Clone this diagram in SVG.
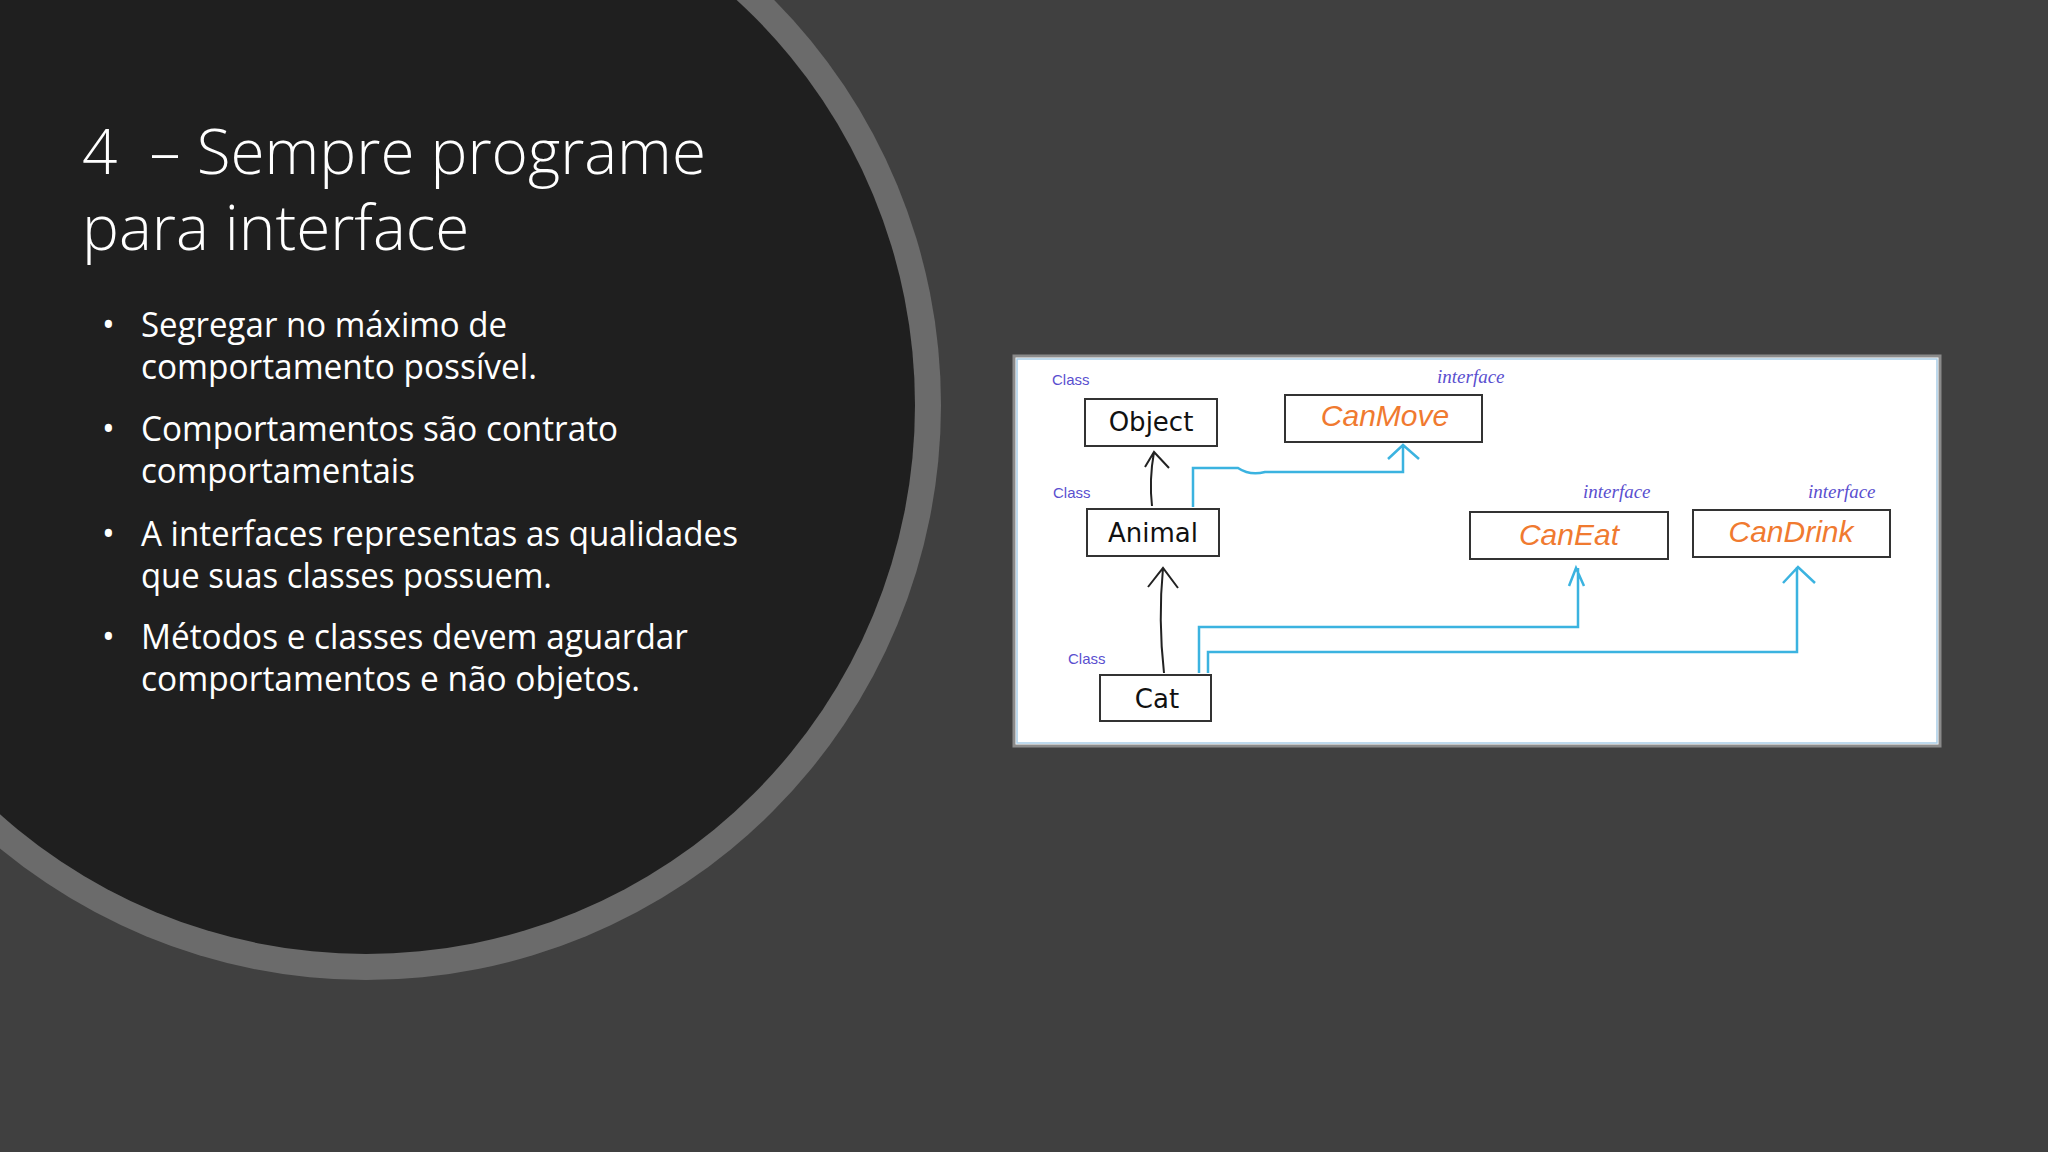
<svg xmlns="http://www.w3.org/2000/svg" width="2048" height="1152" viewBox="0 0 2048 1152">
<style>
.t{font-family:"Open Sans","Liberation Sans",sans-serif;fill:#fff}
.title{font-size:62px;font-weight:300}
.b{font-size:34px}
.box{fill:#fff;stroke:#333;stroke-width:2}
.cls{font-family:"Liberation Sans",sans-serif;font-size:15px;fill:#5a4fcf}
.itf{font-family:"Liberation Serif",serif;font-style:italic;font-size:19px;fill:#5a4fcf}
.nm{font-family:"DejaVu Sans",sans-serif;font-size:26px;fill:#111;text-anchor:middle}
.on{font-family:"Liberation Sans",sans-serif;font-style:italic;font-size:30px;fill:#f07a30;text-anchor:middle}
.k{fill:none;stroke:#222;stroke-width:2}
.c{fill:none;stroke:#3bb3e0;stroke-width:2.5}
</style>
<rect width="2048" height="1152" fill="#404040"/>
<circle cx="366" cy="405" r="575" fill="#6b6b6b"/>
<circle cx="366" cy="405" r="549" fill="#1f1f1f"/>
<g id="title">
<text class="t title" x="82" y="174">4&#160; – Sempre programe</text>
<text class="t title" x="82" y="250">para interface</text>
</g>
<g id="bullets">
<text class="t b" x="102" y="337">•</text>
<text class="t b" x="141" y="337" textLength="366" lengthAdjust="spacingAndGlyphs">Segregar no máximo de</text>
<text class="t b" x="141" y="379" textLength="396" lengthAdjust="spacingAndGlyphs">comportamento possível.</text>
<text class="t b" x="102" y="441">•</text>
<text class="t b" x="141" y="441" textLength="477" lengthAdjust="spacingAndGlyphs">Comportamentos são contrato</text>
<text class="t b" x="141" y="483" textLength="274" lengthAdjust="spacingAndGlyphs">comportamentais</text>
<text class="t b" x="102" y="546">•</text>
<text class="t b" x="141" y="546" textLength="597" lengthAdjust="spacingAndGlyphs">A interfaces representas as qualidades</text>
<text class="t b" x="141" y="588" textLength="411" lengthAdjust="spacingAndGlyphs">que suas classes possuem.</text>
<text class="t b" x="102" y="649">•</text>
<text class="t b" x="141" y="649" textLength="547" lengthAdjust="spacingAndGlyphs">Métodos e classes devem aguardar</text>
<text class="t b" x="141" y="691" textLength="499" lengthAdjust="spacingAndGlyphs">comportamentos e não objetos.</text>
</g>
<rect x="1014" y="356" width="926" height="390" fill="#fff" stroke="#8a8a8a" stroke-width="3"/>
<rect x="1017" y="359" width="920" height="384" fill="none" stroke="#a9cde6" stroke-width="1.5"/>
<g id="labels">
<text class="cls" x="1052" y="385">Class</text>
<text class="itf" x="1437" y="383">interface</text>
<text class="cls" x="1053" y="498">Class</text>
<text class="itf" x="1583" y="498">interface</text>
<text class="itf" x="1808" y="498">interface</text>
<text class="cls" x="1068" y="664">Class</text>
</g>
<g id="connectors">
<path class="k" d="M1152,506 Q1149,480 1154,452 M1145,467 L1154,452 L1169,468"/>
<path class="k" d="M1164,673 Q1158,620 1163,568 M1148,587 L1163,568 L1178,588"/>
<path class="c" d="M1193,507 V468 H1238 Q1250,476 1265,472 H1403 V445 M1388,459 L1403,445 L1419,459"/>
<path class="c" d="M1199,673 V627 H1578 V568 M1569,586 L1576,568 L1584,586"/>
<path class="c" d="M1208,673 V652 H1797 V567 M1783,583 L1798,567 L1815,583"/>
</g>
<g id="Object"><rect class="box" x="1085" y="399" width="132" height="47"/><text class="nm" x="1151" y="431">Object</text></g>
<g id="CanMove"><rect class="box" x="1285" y="395" width="197" height="47"/><text class="on" x="1385" y="426">CanMove</text></g>
<g id="Animal"><rect class="box" x="1087" y="509" width="132" height="47"/><text class="nm" x="1153" y="542">Animal</text></g>
<g id="CanEat"><rect class="box" x="1470" y="512" width="198" height="47"/><text class="on" x="1569" y="545">CanEat</text></g>
<g id="CanDrink"><rect class="box" x="1693" y="510" width="197" height="47"/><text class="on" x="1791" y="542">CanDrink</text></g>
<g id="Cat"><rect class="box" x="1100" y="675" width="111" height="46"/><text class="nm" x="1157" y="708">Cat</text></g>
</svg>
